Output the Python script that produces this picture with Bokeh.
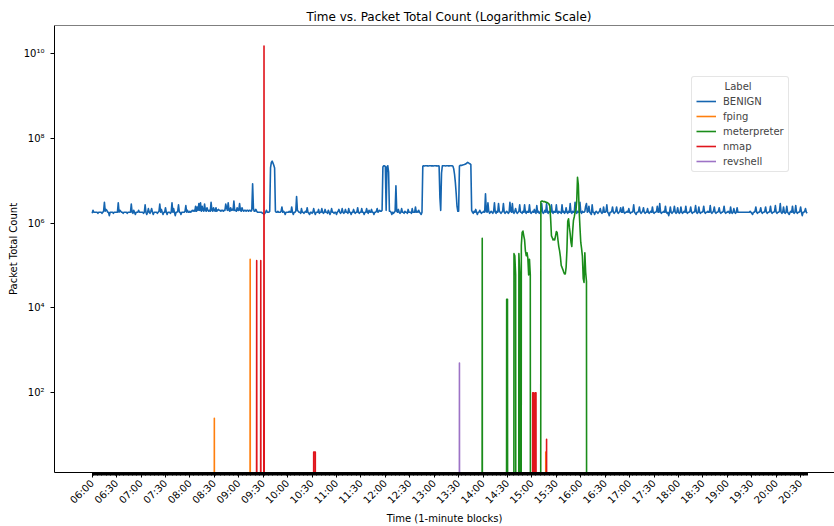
import numpy as np
from bokeh.plotting import figure
from bokeh.models import FixedTicker, Legend, LegendItem, Range1d, Span
from bokeh.embed import file_html
from bokeh.resources import INLINE

# ---------------- data ----------------
TIME_LABELS = ["06:00", "06:30", "07:00", "07:30", "08:00", "08:30", "09:00", "09:30",
               "10:00", "10:30", "11:00", "11:30", "12:00", "12:30", "13:00", "13:30",
               "14:00", "14:30", "15:00", "15:30", "16:00", "16:30", "17:00", "17:30",
               "18:00", "18:30", "19:00", "19:30", "20:00", "20:30"]

# BENIGN packet total count per minute from 06:00, in units of 1e5 packets
BENIGN_E5 = [
    17, 20, 18, 18, 18, 18, 18, 17, 18, 18, 18, 18, 17, 18, 19, 31, 19, 21, 20, 18, 18, 15, 18, 18, 18, 18, 17, 18, 18, 18,
    18, 18, 30, 18, 20, 19, 18, 18, 17, 18, 18, 18, 18, 17, 18, 18, 18, 18, 28, 18, 17, 20, 18, 16, 18, 18, 18, 20, 18, 18,
    18, 18, 18, 17, 18, 27, 18, 16, 18, 22, 18, 17, 19, 22, 18, 16, 18, 18, 18, 18, 17, 18, 19, 28, 18, 21, 18, 16, 18, 18,
    23, 18, 16, 18, 18, 18, 17, 18, 30, 18, 22, 18, 15, 18, 18, 19, 27, 18, 18, 16, 18, 18, 18, 18, 19, 26, 18, 20, 18, 18,
    19, 18, 19, 20, 19, 20, 19, 25, 19, 24, 20, 29, 20, 30, 19, 25, 20, 19, 28, 20, 19, 23, 20, 19, 20, 19, 31, 20, 19, 23,
    20, 19, 23, 19, 20, 21, 20, 20, 19, 20, 20, 19, 20, 20, 28, 23, 20, 30, 20, 19, 23, 20, 21, 20, 33, 20, 20, 19, 23, 20,
    20, 29, 20, 19, 23, 20, 19, 20, 20, 19, 20, 20, 19, 20, 20, 19, 20, 85, 22, 19, 19, 21, 19, 18, 18, 18, 18, 18, 18, 17,
    17, 16, 17, 18, 20, 18, 18, 18, 19, 200, 270, 290, 260, 230, 200, 19, 18, 18, 19, 18, 18, 18, 19, 24, 18, 19, 18, 16, 18, 18,
    18, 18, 19, 18, 18, 24, 18, 16, 18, 18, 19, 42, 20, 19, 18, 18, 17, 22, 18, 18, 17, 18, 19, 18, 23, 18, 17, 16, 18, 18,
    17, 18, 22, 18, 16, 18, 18, 18, 21, 17, 18, 18, 22, 18, 17, 18, 21, 18, 18, 17, 20, 18, 16, 18, 22, 18, 18, 17, 18, 18,
    16, 18, 19, 21, 18, 17, 18, 22, 18, 17, 18, 21, 18, 18, 17, 22, 18, 18, 16, 18, 18, 21, 18, 17, 18, 18, 23, 18, 17, 18,
    18, 22, 18, 18, 16, 18, 18, 22, 18, 17, 20, 18, 18, 21, 18, 18, 16, 18, 18, 19, 22, 18, 19, 20, 19, 19, 20, 210, 225, 225,
    215, 20, 210, 225, 160, 19, 19, 18, 16, 18, 17, 18, 19, 76, 19, 18, 21, 18, 17, 18, 22, 18, 18, 17, 19, 18, 18, 17, 21, 18,
    18, 18, 17, 22, 18, 18, 18, 24, 18, 19, 18, 20, 18, 17, 16, 18, 220, 225, 222, 225, 226, 224, 225, 223, 225, 226, 224, 225, 224, 222,
    225, 226, 224, 225, 222, 224, 222, 40, 20, 150, 225, 224, 226, 225, 223, 225, 226, 224, 225, 224, 226, 225, 224, 220, 190, 140, 90, 50, 25, 19,
    19, 220, 230, 232, 230, 235, 238, 240, 245, 250, 260, 270, 265, 255, 250, 240, 20, 18, 17, 19, 18, 21, 18, 16, 18, 18, 20, 18, 17, 18,
    18, 19, 18, 49, 19, 18, 30, 19, 17, 18, 19, 18, 17, 19, 30, 18, 17, 19, 18, 29, 19, 18, 17, 18, 19, 29, 18, 17, 18, 19,
    18, 17, 18, 31, 19, 18, 29, 18, 17, 19, 22, 18, 17, 18, 19, 27, 18, 18, 17, 19, 18, 27, 18, 17, 19, 18, 18, 27, 18, 17,
    18, 19, 18, 21, 18, 17, 26, 18, 19, 17, 18, 19, 29, 18, 17, 18, 20, 18, 29, 18, 17, 19, 18, 18, 27, 18, 17, 19, 18, 18,
    27, 18, 17, 19, 18, 18, 17, 27, 18, 19, 17, 18, 23, 18, 17, 19, 18, 29, 18, 17, 19, 18, 18, 31, 18, 17, 19, 18, 18, 31,
    18, 17, 19, 18, 18, 19, 25, 29, 18, 19, 25, 18, 17, 16, 27, 18, 18, 16, 18, 19, 18, 17, 18, 19, 22, 18, 17, 18, 24, 18,
    18, 19, 27, 18, 17, 15, 18, 18, 19, 24, 18, 17, 18, 19, 24, 18, 17, 18, 19, 23, 18, 18, 24, 18, 17, 18, 18, 19, 18, 22,
    18, 17, 18, 18, 19, 27, 18, 17, 16, 18, 18, 19, 24, 18, 17, 18, 19, 23, 18, 17, 18, 18, 22, 18, 17, 18, 19, 18, 24, 18,
    17, 18, 18, 19, 25, 18, 18, 29, 18, 17, 18, 18, 19, 18, 25, 18, 17, 18, 15, 18, 24, 18, 17, 18, 19, 25, 18, 17, 18, 23,
    18, 17, 18, 24, 18, 17, 18, 19, 18, 25, 18, 17, 18, 18, 19, 24, 18, 17, 18, 18, 19, 26, 18, 17, 18, 24, 18, 17, 18, 18,
    19, 25, 18, 17, 18, 18, 19, 18, 18, 26, 18, 17, 18, 19, 24, 18, 17, 18, 18, 19, 23, 18, 17, 18, 18, 19, 25, 18, 17, 18,
    18, 19, 18, 17, 24, 18, 17, 18, 22, 18, 17, 18, 23, 18, 18, 18, 18, 18, 18, 18, 18, 18, 18, 18, 18, 18, 18, 18, 19, 18,
    17, 16, 18, 18, 19, 24, 18, 17, 18, 18, 19, 23, 18, 17, 18, 18, 19, 24, 18, 17, 18, 18, 19, 25, 18, 17, 18, 18, 19, 26,
    18, 17, 18, 18, 19, 29, 18, 17, 18, 24, 18, 17, 18, 25, 18, 17, 16, 18, 19, 18, 25, 18, 17, 18, 26, 18, 17, 18, 18, 19,
    24, 18, 15, 18, 18, 19, 22, 18, 17,
]

# attack labels: minute index (from 06:00) and packet total count; all other minutes are 0
FPING_MIN = [150, 194, 557]
FPING_VAL = [25, 1.4e5, 4]

METERP_MIN = [479, 509, 510, 518, 519, 520, 524, 525, 527, 528, 529, 530, 531, 532, 533, 534, 535, 536, 537, 538,
              551, 552, 553, 554, 555, 556, 557, 558, 559, 560, 561, 562, 563, 564, 565, 566, 567, 568, 569,
              570, 571, 572, 573, 574, 575, 576, 577, 578, 579, 580, 581, 582, 583, 584, 585, 586, 587, 588, 589,
              590, 591, 592, 593, 594, 595, 596, 597, 598, 599, 600, 601, 602, 603, 604, 605, 606, 607]
METERP_VAL = [4.4e5, 1.6e4, 1.6e4, 1.9e5, 1.7e5, 6e4, 1.9e5, 7e4, 3e5, 6e5, 6.5e5, 5e5, 4e5, 2.2e5, 1.7e5, 2e5, 1.5e5, 6e4, 1.4e5, 6e4,
              3.2e6, 3.3e6, 3.3e6, 3.2e6, 3.2e6, 3.2e6, 3.1e6, 3.1e6, 3.0e6, 2.95e6, 2.8e6, 2.5e6, 1.26e6, 5.0e5, 4.5e5, 4.0e5, 4.2e5, 4.0e5, 5.0e5,
              6.3e5, 6.0e5, 4.0e5, 2.8e5, 2.2e5, 1.6e5, 1.0e5, 9e4, 8e4, 7e4, 6.3e4, 6.3e4, 9e4, 2.3e5, 1.1e6, 1.26e6, 8e5, 5.6e5, 3.5e5, 2.8e5,
              6.3e5, 1.15e6, 1.4e6, 1.8e6, 2.0e6, 3.2e6, 1.2e7, 8e6, 2.0e6, 8e5, 3.5e5, 2.5e5, 1.66e5, 5e4, 4e4, 2e5, 7e4, 4.2e4]

NMAP_MIN = [202, 207, 211, 272, 273, 274, 541, 542, 544, 545, 558]
NMAP_VAL = [1.3e5, 1.3e5, 1.5e10, 4, 4, 4, 100, 100, 100, 100, 8]

REVSHELL_MIN = [451]
REVSHELL_VAL = [500]

LABELS = ["BENIGN", "fping", "meterpreter", "nmap", "revshell"]
COLORS = ["#1565b0", "#ff7f0e", "#1a8c1a", "#e0151c", "#9d73c6"]

# ---------------- build ----------------
n = len(BENIGN_E5)
minutes = np.arange(n)
benign = np.array(BENIGN_E5, dtype=float) * 1e5


def full_series(mins, vals):
    arr = np.zeros(n)
    arr[np.array(mins)] = np.array(vals, dtype=float)
    # zero counts cannot sit on a log axis: push them far below the visible range
    return np.where(arr > 0, arr, 1e-30)


series = [benign,
          full_series(FPING_MIN, FPING_VAL),
          full_series(METERP_MIN, METERP_VAL),
          full_series(NMAP_MIN, NMAP_VAL),
          full_series(REVSHELL_MIN, REVSHELL_VAL)]

FONT = "DejaVu Sans"
Y_TOP = 10 ** 10.66

p = figure(width=834, height=526, output_backend="svg", toolbar_location=None,
           y_axis_type="log",
           x_range=Range1d(-46.3, 911.6),
           y_range=Range1d(10 ** 0.118, Y_TOP),
           min_border_left=54, min_border_right=0, min_border_top=25, min_border_bottom=53,
           title="Time vs. Packet Total Count (Logarithmic Scale)")

p.title.text_font = FONT
p.title.text_font_size = "12px"
p.title.text_font_style = "normal"
p.title.text_color = "black"
p.title.align = "left"
p.title.offset = 252
p.title.standoff = 4

p.xgrid.visible = False
p.ygrid.visible = False
p.outline_line_color = None
p.background_fill_color = "white"
p.border_fill_color = "white"

renderers = []
for s, c in zip(series, COLORS):
    r = p.line(minutes, s, line_color=c, line_width=1.6, line_join="round")
    renderers.append(r)

# top spine
p.add_layout(Span(location=Y_TOP, dimension="width", line_color="black", line_width=1))

# x axis
xa = p.xaxis[0]
major = [30 * i for i in range(len(TIME_LABELS))]
xa.ticker = FixedTicker(ticks=major, minor_ticks=list(range(n)))
xa.major_label_overrides = {t: lab for t, lab in zip(major, TIME_LABELS)}
xa.major_label_orientation = np.pi / 4
xa.axis_label = "Time (1-minute blocks)"

# y axis
ya = p.yaxis[0]
yt = [100, 10 ** 4, 10 ** 6, 10 ** 8, 10 ** 10]
ya.ticker = FixedTicker(ticks=yt, minor_ticks=[])
ya.major_label_overrides = {100: "10²", 10 ** 4: "10⁴", 10 ** 6: "10⁶", 10 ** 8: "10⁸", 10 ** 10: "10¹⁰"}
ya.axis_label = "Packet Total Count"

for ax in (xa, ya):
    ax.axis_line_color = "black"
    ax.axis_line_width = 1
    ax.major_tick_line_color = "black"
    ax.minor_tick_line_color = "black"
    ax.major_tick_in = 0
    ax.minor_tick_in = 0
    ax.major_tick_out = 4
    ax.major_label_text_font = FONT
    ax.major_label_text_font_size = "10px"
    ax.major_label_text_color = "black"
    ax.axis_label_text_font = FONT
    ax.axis_label_text_font_size = "10px"
    ax.axis_label_text_font_style = "normal"
    ax.axis_label_text_color = "black"
xa.minor_tick_out = 3
xa.major_tick_out = 5
xa.major_label_standoff = 4
xa.axis_label_standoff = 0
ya.major_label_standoff = 6
ya.axis_label_standoff = 2

legend = Legend(items=[LegendItem(label=l, renderers=[r]) for l, r in zip(LABELS, renderers)],
                location=(637, 300),
                title="\u00a0" * 9 + "Label")
legend.title_text_font = FONT
legend.title_text_font_size = "10px"
legend.title_text_font_style = "normal"
legend.title_standoff = 3
legend.label_text_font = FONT
legend.label_text_font_size = "10px"
legend.glyph_width = 20
legend.glyph_height = 12
legend.label_height = 12
legend.label_standoff = 7
legend.spacing = 3
legend.padding = 4
legend.margin = 0
legend.border_line_color = "#cccccc"
legend.border_line_width = 1
legend.background_fill_alpha = 0.8
if "border_radius" in Legend.properties():
    legend.border_radius = 3
p.add_layout(legend)

open("out.html", "w").write(file_html(p, INLINE))
